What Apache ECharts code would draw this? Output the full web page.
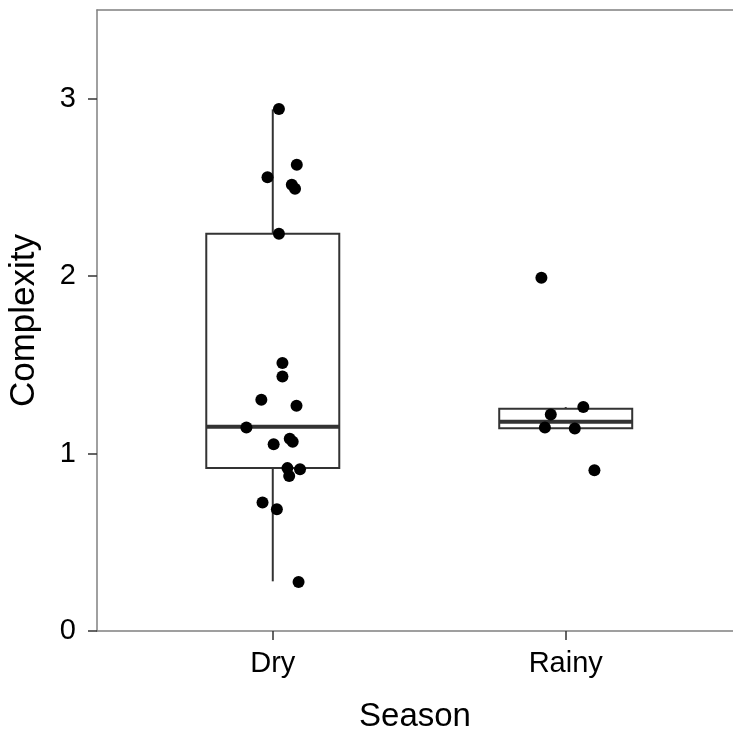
<!DOCTYPE html>
<html>
<head>
<meta charset="utf-8">
<title>Complexity by Season</title>
<script src="https://cdn.jsdelivr.net/npm/echarts@6/dist/echarts.min.js"></script>
<style>
  html, body { margin: 0; padding: 0; background: #ffffff; }
  #chart { width: 733px; height: 736px; }
</style>
</head>
<body>
<div id="chart"></div>
<script>
// Categories on the x axis (positions 1 and 2)
const seasons = ['Dry', 'Rainy'];

// Observed complexity values and their horizontal jitter offsets
const dryValues  = [2.942, 2.628, 2.557, 2.515, 2.493, 2.239, 1.510, 1.434, 1.303, 1.269,
                    1.147, 1.083, 1.066, 1.053, 0.918, 0.912, 0.874, 0.724, 0.686, 0.276];
const dryJitter  = [0.021, 0.082, -0.018, 0.065, 0.076, 0.021, 0.033, 0.033, -0.039, 0.081,
                    -0.090, 0.058, 0.068, 0.003, 0.050, 0.093, 0.056, -0.035, 0.014, 0.088];
const rainyValues = [1.991, 1.262, 1.220, 1.147, 1.141, 0.906];
const rainyJitter = [-0.083, 0.060, -0.051, -0.071, 0.031, 0.098];

// Box summaries per season: [lower whisker, Q1, median, Q3, upper whisker]
const dryBox   = [0.280, 0.919, 1.151, 2.239, 2.940];
const rainyBox = [1.141, 1.143, 1.180, 1.252, 1.262];

// Y axis tick labels
const yTicks = [0, 1, 2, 3];

const FONT = '"Liberation Sans", Arial, Helvetica, sans-serif';
const BOX_WIDTH = 0.454;
const FRAME = { color: '#808080', width: 1.5 };

const boxData = [[1].concat(dryBox), [2].concat(rainyBox)];
const scatterData = dryValues.map((v, i) => [1 + dryJitter[i], v])
  .concat(rainyValues.map((v, i) => [2 + rainyJitter[i], v]));

const chart = echarts.init(document.getElementById('chart'), null, { renderer: 'canvas' });

chart.setOption({
  backgroundColor: '#ffffff',
  animation: false,
  // The panel runs past the right edge of the canvas, so the x range stops at 2.57
  grid: { left: 97, top: 10, right: 0, bottom: 105, show: false, outerBoundsMode: 'none' },
  xAxis: [
    {
      type: 'value',
      min: 0.4, max: 2.571,
      name: 'Season',
      nameLocation: 'middle',
      nameGap: 69,
      nameTextStyle: { fontFamily: FONT, fontSize: 33, color: '#000' },
      axisLine: { show: true, lineStyle: FRAME },
      splitLine: { show: false },
      axisTick: {
        show: true, length: 9, customValues: [1, 2],
        lineStyle: { color: '#333', width: 1.5 }
      },
      axisLabel: {
        customValues: [1, 2],
        formatter: v => seasons[Math.round(v) - 1] || '',
        fontFamily: FONT, fontSize: 29, color: '#000', margin: 18
      }
    },
    {
      type: 'value',
      position: 'top',
      min: 0.4, max: 2.571,
      axisLine: { show: true, lineStyle: FRAME },
      axisTick: { show: false },
      axisLabel: { show: false },
      splitLine: { show: false }
    }
  ],
  yAxis: {
    type: 'value',
    min: 0, max: 3.5,
    name: 'Complexity',
    nameLocation: 'middle',
    nameGap: 55,
    nameTextStyle: { fontFamily: FONT, fontSize: 35, color: '#000' },
    axisLine: { show: true, lineStyle: FRAME },
    splitLine: { show: false },
    axisTick: {
      show: true, length: 9, customValues: yTicks,
      lineStyle: { color: '#333', width: 1.5 }
    },
    axisLabel: {
      customValues: yTicks,
      fontFamily: FONT, fontSize: 29, color: '#000', margin: 21
    }
  },
  series: [
    {
      type: 'custom',
      data: boxData,
      encode: { x: 0, y: [1, 2, 3, 4, 5] },
      z: 2,
      renderItem: function (params, api) {
        const x = api.value(0);
        const lo = api.value(1), q1 = api.value(2), med = api.value(3), q3 = api.value(4), hi = api.value(5);
        const half = BOX_WIDTH / 2;
        const pTopL = api.coord([x - half, q3]);
        const pBotR = api.coord([x + half, q1]);
        const pMedL = api.coord([x - half, med]);
        const pMedR = api.coord([x + half, med]);
        const pHi = api.coord([x, hi]);
        const pLo = api.coord([x, lo]);
        const stroke = { stroke: '#333333', lineWidth: 2 };
        return {
          type: 'group',
          children: [
            { type: 'line', shape: { x1: pHi[0], y1: pHi[1], x2: pHi[0], y2: pTopL[1] }, style: stroke },
            { type: 'line', shape: { x1: pLo[0], y1: pBotR[1], x2: pLo[0], y2: pLo[1] }, style: stroke },
            {
              type: 'rect',
              shape: { x: pTopL[0], y: pTopL[1], width: pBotR[0] - pTopL[0], height: pBotR[1] - pTopL[1] },
              style: { fill: '#ffffff', stroke: '#333333', lineWidth: 2 }
            },
            { type: 'line', shape: { x1: pMedL[0], y1: pMedL[1], x2: pMedR[0], y2: pMedR[1] },
              style: { stroke: '#333333', lineWidth: 4 } }
          ]
        };
      }
    },
    {
      type: 'scatter',
      data: scatterData,
      symbol: 'circle',
      symbolSize: 12,
      z: 3,
      itemStyle: { color: '#000000', opacity: 1 }
    }
  ]
});
</script>
</body>
</html>
